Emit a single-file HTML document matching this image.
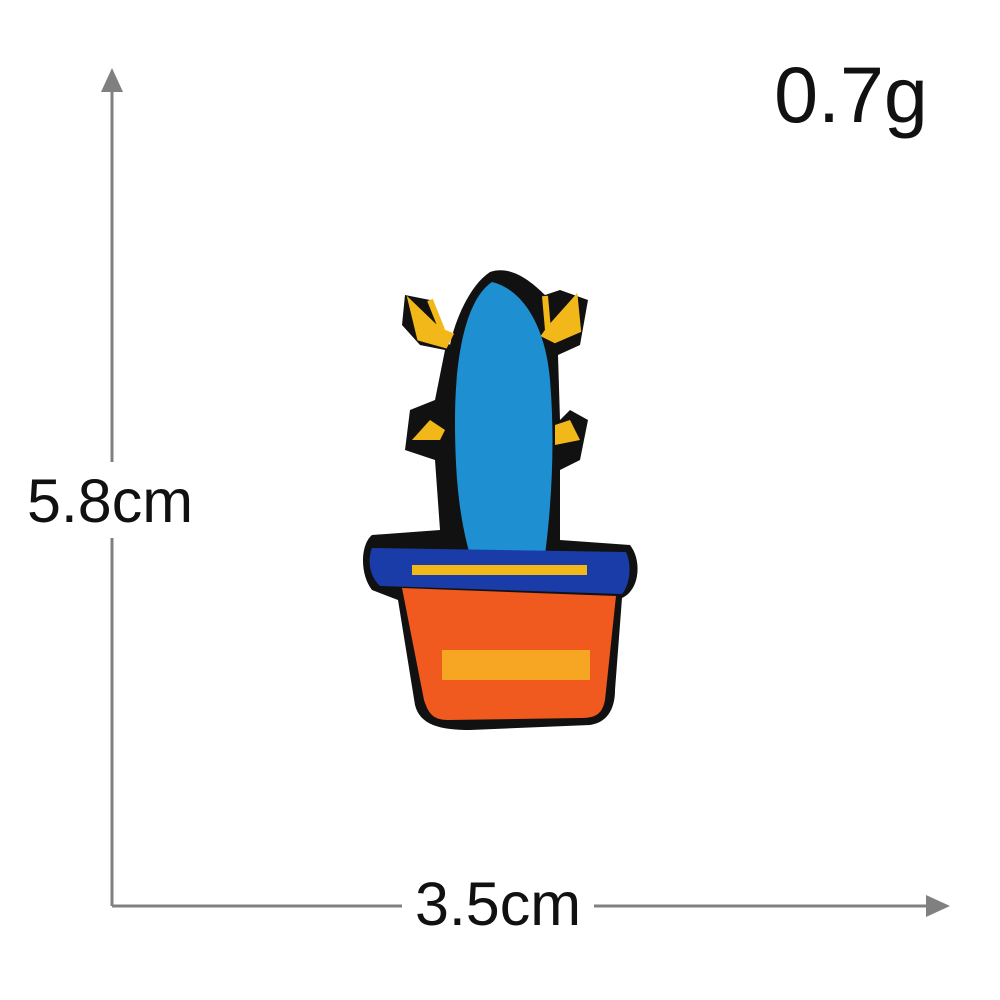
<!DOCTYPE html>
<html><head><meta charset="utf-8"><style>
html,body{margin:0;padding:0;background:#fff;}
svg{display:block;}
text{font-family:"Liberation Sans","DejaVu Sans",sans-serif;fill:#111;}
</style></head><body>
<svg width="1000" height="1000" viewBox="0 0 1000 1000">
  <g>
    <line x1="112" y1="88" x2="112" y2="906" stroke="#808080" stroke-width="3"/>
    <polygon points="112,68 101,92 123,92" fill="#808080"/>
  </g>
  <g>
    <line x1="112" y1="906" x2="930" y2="906" stroke="#808080" stroke-width="3"/>
    <polygon points="950,906 926,895 926,917" fill="#808080"/>
  </g>
  <rect x="18" y="462" width="186" height="76" fill="#fff"/>
  <text x="110" y="522" font-size="61" text-anchor="middle">5.8cm</text>
  <rect x="402" y="866" width="192" height="76" fill="#fff"/>
  <text x="498" y="925" font-size="61" text-anchor="middle">3.5cm</text>
  <text x="851" y="122" font-size="79" text-anchor="middle">0.7g</text>

  <g>
    <path d="M490,272 C470,285 455,320 450,345 L440,335 L430,300 L405,295 L402,325 L420,345 L445,350 L435,400 L410,410 L405,450 L435,460 L440,530 L372,535 C360,545 360,575 372,590 L398,600 L415,705 C420,725 440,730 470,730 L590,725 C610,722 615,705 615,690 L622,598 C640,590 642,560 630,545 L560,540 L560,470 L580,460 L588,420 L570,410 L560,420 L558,355 L580,345 L588,300 L560,290 L545,295 C530,280 510,265 490,272 Z" fill="#111"/>
    <path d="M412,305 L438,330 L450,335 L445,345 L420,338 Z M430,300 L442,330" fill="#f2b81a" stroke="#f2b81a" stroke-width="6"/>
    <path d="M575,300 L550,328 L545,335 L555,340 L578,330 Z M545,296 L548,330" fill="#f2b81a" stroke="#f2b81a" stroke-width="6"/>
    <path d="M412,440 L440,440 L445,430 L430,420 Z" fill="#f2b81a"/>
    <path d="M580,440 L555,445 L555,425 L570,420 Z" fill="#f2b81a"/>
    <path d="M492,282 C465,300 455,360 455,420 C455,480 460,520 470,555 L545,555 C552,500 555,440 550,380 C546,330 525,290 492,282 Z" fill="#1e8fd0"/>
    <path d="M372,548 L626,552 C632,565 630,585 622,594 L380,586 C368,575 368,558 372,548 Z" fill="#1a3ca8"/>
    <rect x="412" y="565" width="175" height="10" fill="#f2b81a"/>
    <path d="M402,588 L616,596 L605,700 C602,715 595,718 580,718 L448,720 C432,720 428,712 424,700 Z" fill="#f05a1e"/>
    <rect x="442" y="650" width="148" height="30" fill="#f6a623"/>
  </g>
</svg>
</body></html>
